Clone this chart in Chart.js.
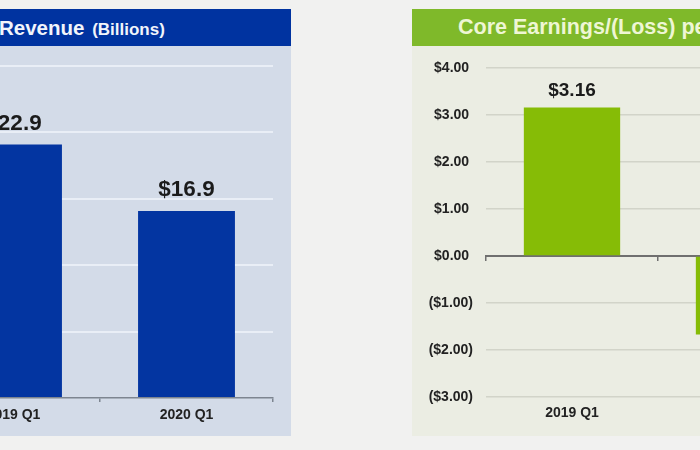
<!DOCTYPE html>
<html>
<head>
<meta charset="utf-8">
<script src="https://cdn.jsdelivr.net/npm/chart.js@4.4.1/dist/chart.umd.min.js"></script>
<style>
  html, body { margin: 0; padding: 0; }
  body {
    width: 700px; height: 450px; overflow: hidden; position: relative;
    background: #f1f1f0;
    font-family: "Liberation Sans", Arial, sans-serif;
  }
  .panel { position: absolute; top: 9px; height: 427px; overflow: hidden; }
  #revPanel { left: 0; width: 291px; background: #d3dbe8; }
  #epsPanel { left: 412px; width: 430px; background: #ebede3; }
  .head { position: absolute; left: 0; top: 0; right: 0; height: 37px; font-weight: bold; white-space: nowrap; }
  #revPanel .head { background: #0033a0; color: #f2f5fb; }
  #epsPanel .head { background: #7fb92a; color: #eef6d4; }
  .head .t { position: absolute; top: 0; line-height: 37px; }
  .box { position: absolute; top: 37px; height: 390px; }
  #revBox { left: -200px; width: 491px; }
  #epsBox { left: 0; width: 430px; }
</style>
</head>
<body>
  <div class="panel" id="revPanel">
    <div class="head"><span class="t" style="left:-1px;font-size:20.5px;">Revenue <span style="font-size:17px;margin-left:2px;">(Billions)</span></span></div>
    <div class="box" id="revBox"><canvas id="revChart"></canvas></div>
  </div>
  <div class="panel" id="epsPanel">
    <div class="head"><span class="t" style="left:46px;font-size:21.5px;">Core Earnings/(Loss) per Share</span></div>
    <div class="box" id="epsBox"><canvas id="epsChart"></canvas></div>
  </div>

<script>
// revenue, billions
const revCategories = ["2019 Q1", "2020 Q1"];
const revValues = [22.9, 16.9];
const revTicks = [0, 6, 12, 18, 24, 30];

// core earnings per share
const epsCategories = ["2019 Q1", "2020 Q1"];
const epsValues = [3.16, -1.67];
const epsTicks = [-3, -2, -1, 0, 1, 2, 3, 4];

Chart.defaults.font.family = '"Liberation Sans", Arial, sans-serif';
Chart.defaults.color = "#222";

function valueLabels(size, gap, fmt) {
  return {
    id: "valueLabels",
    afterDatasetsDraw(chart) {
      const ctx = chart.ctx;
      const values = chart.data.datasets[0].data;
      ctx.save();
      ctx.font = `bold ${size}px "Liberation Sans", Arial, sans-serif`;
      ctx.fillStyle = "#1b1b1b";
      ctx.textAlign = "center";
      chart.getDatasetMeta(0).data.forEach((bar, i) => {
        const v = values[i];
        if (v >= 0) {
          ctx.textBaseline = "alphabetic";
          ctx.fillText(fmt(v), bar.x, bar.y - gap);
        } else {
          ctx.textBaseline = "top";
          ctx.fillText(fmt(v), bar.x, bar.y + gap);
        }
      });
      ctx.restore();
    }
  };
}

const dollar2 = v => v < 0 ? `($${Math.abs(v).toFixed(2)})` : `$${v.toFixed(2)}`;

new Chart(document.getElementById("revChart"), {
  type: "bar",
  data: {
    labels: revCategories,
    datasets: [{
      data: revValues,
      backgroundColor: "#0335a1",
      barPercentage: 0.56,
      categoryPercentage: 1
    }]
  },
  options: {
    responsive: true,
    maintainAspectRatio: false,
    animation: false,
    layout: { padding: { top: 20, right: 18, left: 0, bottom: 0 } },
    plugins: { legend: { display: false }, tooltip: { enabled: false } },
    scales: {
      x: {
        offset: true,
        grid: { offset: true, drawOnChartArea: false, drawTicks: true, tickLength: 4, color: "#7d8590", lineWidth: 1.5 },
        border: { display: true, color: "#7d8590", width: 1.5 },
        ticks: { font: { size: 14, weight: "bold" }, color: "#222", padding: 5 },
        afterFit: s => { s.height = 38; }
      },
      y: {
        min: revTicks[0],
        max: revTicks[revTicks.length - 1],
        ticks: { stepSize: revTicks[1] - revTicks[0], callback: v => "$" + v.toFixed(1), font: { size: 14, weight: "bold" } },
        grid: {
          drawTicks: false,
          color: c => c.tick.value === 0 ? "rgba(0,0,0,0)" : "#e9eef6",
          lineWidth: 2
        },
        border: { display: false },
        afterFit: s => { s.width = 127; }
      }
    }
  },
  plugins: [valueLabels(22.5, 15, v => "$" + v.toFixed(1))]
});

new Chart(document.getElementById("epsChart"), {
  type: "bar",
  data: {
    labels: epsCategories,
    datasets: [{
      data: epsValues,
      backgroundColor: "#86bc06",
      barPercentage: 0.56,
      categoryPercentage: 1
    }]
  },
  options: {
    responsive: true,
    maintainAspectRatio: false,
    animation: false,
    layout: { padding: { top: 22, right: 12, left: 0, bottom: 0 } },
    plugins: { legend: { display: false }, tooltip: { enabled: false } },
    scales: {
      x: {
        offset: true,
        grid: { display: false, drawTicks: false },
        border: { display: false },
        ticks: { font: { size: 14, weight: "bold" }, color: "#222", padding: 8 },
        afterFit: s => { s.height = 39; }
      },
      x0: {
        type: "category",
        position: { y: 0 },
        offset: true,
        grid: { offset: true, drawOnChartArea: false, drawTicks: true, tickLength: 4, color: "#6f6f6f", lineWidth: 1.5 },
        border: { display: true, color: "#6f6f6f", width: 2 },
        ticks: { display: false }
      },
      y: {
        min: epsTicks[0],
        max: epsTicks[epsTicks.length - 1],
        ticks: {
          stepSize: epsTicks[1] - epsTicks[0],
          callback: v => v < 0 ? dollar2(v) : dollar2(v) + " ",
          font: { size: 14, weight: "bold" },
          color: "#222",
          padding: 13
        },
        grid: {
          drawTicks: false,
          color: c => c.tick.value === 0 ? "rgba(0,0,0,0)" : "#d2d4c9",
          lineWidth: 1.5
        },
        border: { display: false },
        afterFit: s => { s.width = 74; }
      }
    }
  },
  plugins: [valueLabels(19, 11, dollar2)]
});
</script>
</body>
</html>
